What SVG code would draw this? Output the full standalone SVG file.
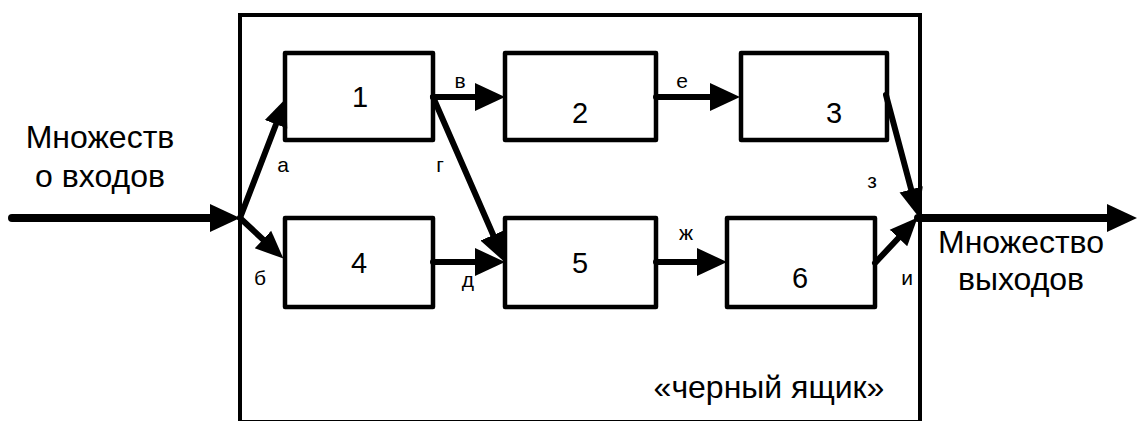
<svg xmlns="http://www.w3.org/2000/svg" width="1137" height="421" viewBox="0 0 1137 421">
<style>
.box{fill:#fff;stroke:#000;stroke-width:4.5;stroke-linejoin:round}
.num{font-family:"Liberation Sans",Arial,sans-serif;font-size:29px;text-anchor:middle;fill:#000}
.big{font-family:"Liberation Sans",Arial,sans-serif;font-size:32px;text-anchor:middle;fill:#000}
.lbl{font-family:"Liberation Sans",Arial,sans-serif;font-size:21px;text-anchor:middle;fill:#000}
.c{stroke:#000;stroke-width:6;fill:none;stroke-linecap:round}
.cw{stroke:#000;stroke-width:8;fill:none;stroke-linecap:round}
</style>
<defs>
<marker id="ah" markerUnits="userSpaceOnUse" markerWidth="32" markerHeight="30" viewBox="0 0 32 30" refX="12" refY="15" orient="auto">
<path d="M0,1 L30,15 L0,29 z" fill="#000"/>
</marker>
<marker id="ahs" markerUnits="userSpaceOnUse" markerWidth="30" markerHeight="28" viewBox="0 0 30 28" refX="11" refY="14" orient="auto">
<path d="M0,2 L28,14 L0,26 z" fill="#000"/>
</marker>
</defs>
<g id="blackbox">
<rect x="240" y="15" width="680" height="407" fill="#fff" stroke="#000" stroke-width="4"/>
<text class="big" x="769" y="398">«черный ящик»</text>
</g>
<g id="n1"><rect class="box" x="285" y="53" width="148" height="87"/><text class="num" x="360" y="107">1</text></g>
<g id="n2"><rect class="box" x="505" y="53" width="151" height="87"/><text class="num" x="580" y="123">2</text></g>
<g id="n3"><rect class="box" x="741" y="53" width="146" height="87"/><text class="num" x="834" y="123">3</text></g>
<g id="n4"><rect class="box" x="285" y="218" width="148" height="89"/><text class="num" x="359" y="273">4</text></g>
<g id="n5"><rect class="box" x="505" y="218" width="151" height="89"/><text class="num" x="580" y="273">5</text></g>
<g id="n6"><rect class="box" x="727" y="218" width="148" height="89"/><text class="num" x="800" y="288">6</text></g>
<g id="input-label"><text class="big" x="100" y="148">Множеств</text><text class="big" x="100" y="187">о входов</text></g>
<g id="output-label"><text class="big" x="1021" y="253">Множество</text><text class="big" x="1021" y="290">выходов</text></g>
<g id="connectors">
<line class="cw" x1="12" y1="218" x2="222" y2="218" marker-end="url(#ah)"/>
<line class="c" x1="240" y1="218" x2="280" y2="114" marker-end="url(#ahs)"/>
<line class="c" x1="240" y1="218" x2="271" y2="247" marker-end="url(#ahs)"/>
<line class="c" x1="433" y1="97" x2="487" y2="97" marker-end="url(#ah)"/>
<line class="c" x1="656" y1="97" x2="722" y2="97" marker-end="url(#ah)"/>
<line class="c" x1="433" y1="97" x2="498" y2="246" marker-end="url(#ah)"/>
<line class="c" x1="433" y1="262" x2="487" y2="262" marker-end="url(#ah)"/>
<line class="c" x1="656" y1="262" x2="709" y2="262" marker-end="url(#ah)"/>
<line class="c" x1="886" y1="95" x2="914" y2="200" marker-end="url(#ahs)"/>
<line class="c" x1="875" y1="263" x2="906" y2="230" marker-end="url(#ahs)"/>
<line class="cw" x1="918" y1="218" x2="1119" y2="218" marker-end="url(#ah)"/>
<text class="lbl" x="283" y="172">а</text>
<text class="lbl" x="260" y="285">б</text>
<text class="lbl" x="460" y="88">в</text>
<text class="lbl" x="440" y="172">г</text>
<text class="lbl" x="468" y="287">д</text>
<text class="lbl" x="682" y="88">е</text>
<text class="lbl" x="686" y="240">ж</text>
<text class="lbl" x="872" y="188">з</text>
<text class="lbl" x="907" y="285">и</text>
</g>
</svg>
